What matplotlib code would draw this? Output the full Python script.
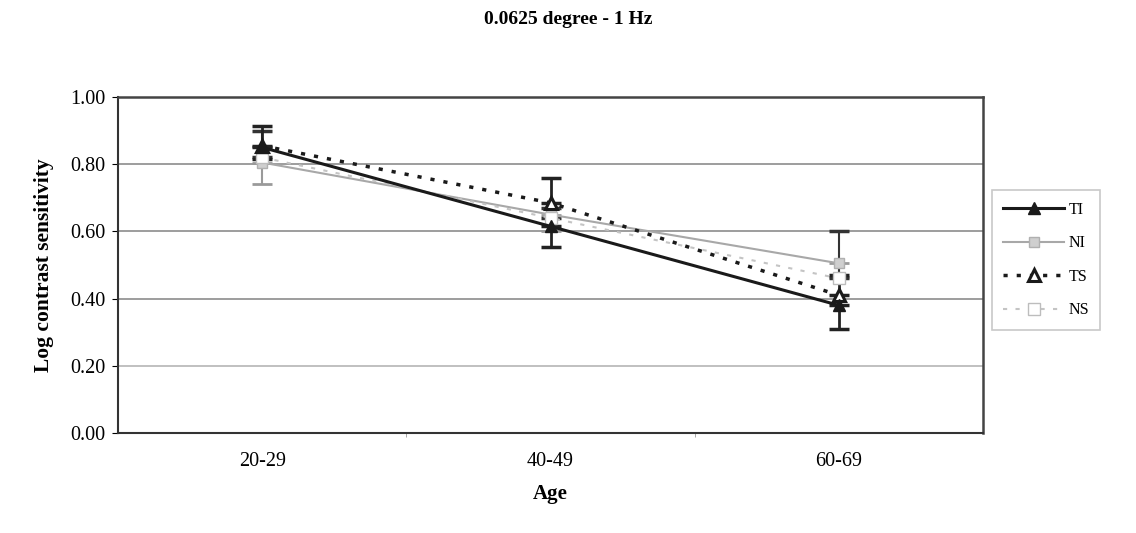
import matplotlib
matplotlib.use("Agg")
import matplotlib.pyplot as plt
from matplotlib.ticker import FixedLocator

plt.rcParams['font.family'] = ['Liberation Serif', 'DejaVu Serif']

# Data
ages = ["20-29", "40-49", "60-69"]
ti = [0.85, 0.615, 0.38]
ni = [0.805, 0.65, 0.505]
ts = [0.855, 0.685, 0.41]
ns = [0.82, 0.64, 0.46]
# one-sided error bars (minus for TI/NI, plus for TS/NS)
ti_err = [0.035, 0.06, 0.07]
ni_err = [0.065, 0.05, 0.04]
ts_err = [0.06, 0.075, 0.06]
ns_err = [0.08, 0.03, 0.14]

x = list(range(len(ages)))

fig = plt.figure(figsize=(11.36, 5.33), dpi=100)
ax = fig.add_axes([118/1136, 1-433/533, 865/1136, 336/533])

for yv in [0.2, 0.4, 0.6, 0.8]:
    ax.axhline(yv, color='#8c8c8c' if yv != 0.2 else '#b5b5b5', lw=1.2, zorder=0)

ax.errorbar(x, ni, yerr=[ni_err, [0]*3], fmt='none', ecolor='#9a9a9a', capsize=7, elinewidth=1.5, capthick=2, zorder=2)
ax.errorbar(x, ns, yerr=[[0]*3, ns_err], fmt='none', ecolor='#333333', capsize=7, elinewidth=1.5, capthick=2.5, zorder=2)
ax.errorbar(x, ti, yerr=[ti_err, [0]*3], fmt='none', ecolor='#222222', capsize=7, elinewidth=2, capthick=2.5, zorder=3)
ax.errorbar(x, ts, yerr=[[0]*3, ts_err], fmt='none', ecolor='#222222', capsize=7, elinewidth=2, capthick=2.5, zorder=3)

ax.plot(x, ni, color='#a8a8a8', lw=1.5, marker='s', ms=7, mfc='#cfcfcf', mec='#b0b0b0', label='NI', zorder=4)
ax.plot(x, ns, color='#c4c4c4', lw=1.5, ls=(0, (2, 4)), marker='s', ms=8, mfc='white', mec='#bdbdbd', label='NS', zorder=4)
ax.plot(x, ts, color='#1a1a1a', lw=2.5, ls=(0, (1.2, 2.6)), marker='^', ms=9, mfc='white', mec='#1a1a1a', mew=2.2, label='TS', zorder=5)
ax.plot(x, ti, color='#1a1a1a', lw=2.2, marker='^', ms=9, mfc='#1a1a1a', mec='#1a1a1a', label='TI', zorder=6)

ax.set_xlim(-0.5, 2.5)
ax.set_ylim(0, 1.0)
ax.set_yticks([0, 0.2, 0.4, 0.6, 0.8, 1.0])
ax.set_yticklabels([f"{v:.2f}" for v in [0, 0.2, 0.4, 0.6, 0.8, 1.0]], fontsize=14.5)
ax.set_xticks(x)
ax.set_xticklabels(ages, fontsize=14.5)
ax.tick_params(axis='x', which='major', length=0, pad=14)
ax.xaxis.set_minor_locator(FixedLocator([0.5, 1.5]))
ax.tick_params(axis='x', which='minor', length=3, direction='out', color='#999999')
ax.tick_params(axis='y', length=4, direction='out', pad=5)
for side in ['left', 'bottom']:
    ax.spines[side].set_color('#333333')
    ax.spines[side].set_linewidth(1.5)
for side in ['top', 'right']:
    ax.spines[side].set_color('#444444')
    ax.spines[side].set_linewidth(1.8)

ax.set_ylabel("Log contrast sensitivity", fontsize=15.5, fontweight='bold', labelpad=12)
ax.set_xlabel("Age", fontsize=15, fontweight='bold', labelpad=9)
fig.text(0.5, 1-20/533, "0.0625 degree - 1 Hz", ha='center', va='center', fontsize=14, fontweight='bold')

h, l = ax.get_legend_handles_labels()
order = [l.index(n) for n in ['TI', 'NI', 'TS', 'NS']]
leg = fig.legend([h[i] for i in order], [l[i] for i in order], loc='center left',
                 bbox_to_anchor=(984/1136, 1-260/533), fontsize=11.5, frameon=True,
                 fancybox=False, edgecolor='#bbbbbb', handlelength=3.8, borderpad=0.7,
                 labelspacing=1.1, handletextpad=0.3)
leg.get_frame().set_linewidth(1.2)

fig.savefig("out.png", dpi=100)
